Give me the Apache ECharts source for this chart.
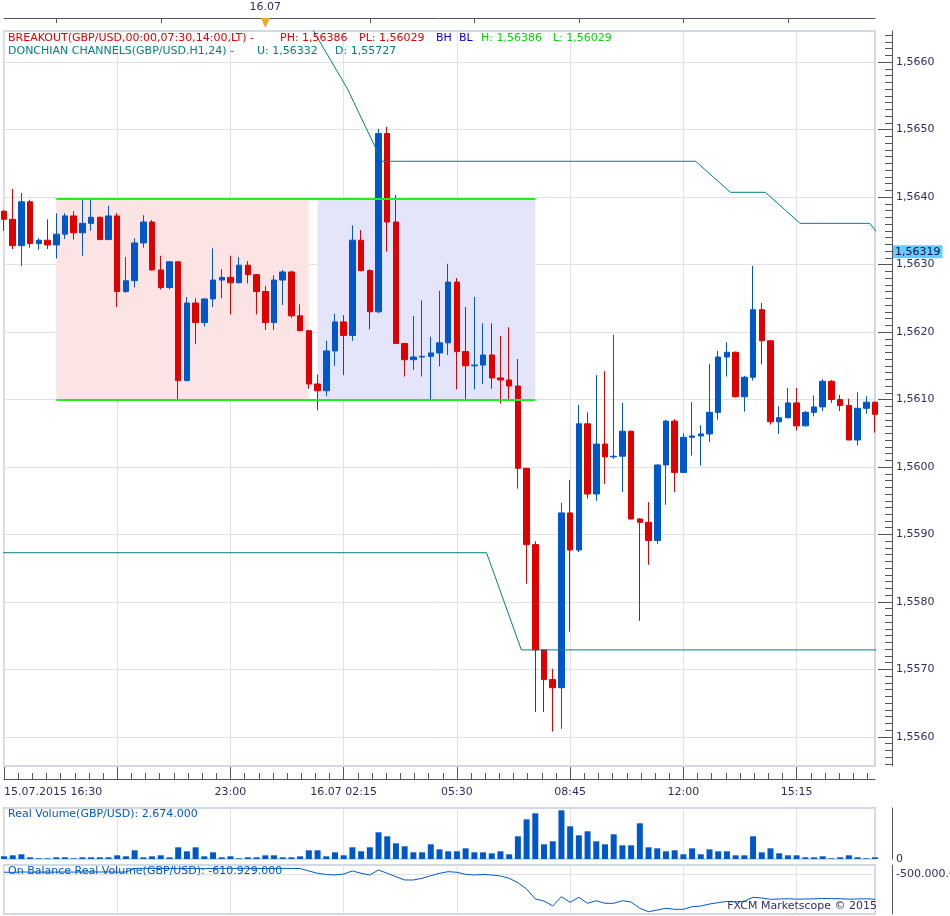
<!DOCTYPE html>
<html><head><meta charset="utf-8">
<script src="https://cdn.jsdelivr.net/npm/echarts@6/dist/echarts.min.js"></script>
<style>html,body{margin:0;padding:0;background:#fff}#c{width:950px;height:916px}</style>
</head><body><div id="c"></div>
<script>
// ---------- data ----------
const times = [];
for (let i = 0; i < 101; i++) {
  const m = 16 * 60 + 30 + i * 15;
  const day = m >= 1440 ? '16.07' : '15.07';
  const mm = m % 1440;
  times.push(day + ' ' + String(Math.floor(mm / 60)).padStart(2, '0') + ':' + String(mm % 60).padStart(2, '0'));
}
const opens = [1.56379,1.56367,1.56328,1.56393,1.56331,1.56336,1.56329,1.56345,1.56372,1.56347,
1.56361,1.56370,1.56337,1.56372,1.56260,1.56276,1.56332,1.56363,1.56292,1.56266,
1.56304,1.56128,1.56243,1.56214,1.56249,1.56277,1.56281,1.56273,1.56299,1.56285,
1.56260,1.56214,1.56277,1.56289,1.56224,1.56202,1.56123,1.56113,1.56172,1.56215,
1.56195,1.56336,1.56291,1.56230,1.56494,1.56363,1.56183,1.56159,1.56163,1.56164,
1.56169,1.56184,1.56274,1.56171,1.56150,1.56151,1.56166,1.56132,1.56129,1.56120,
1.55998,1.55885,1.55729,1.55685,1.55673,1.55932,1.55877,1.56064,1.55960,1.56034,
1.56015,1.56016,1.56053,1.55923,1.55918,1.55891,1.56003,1.56068,1.55992,1.56044,
1.56046,1.56049,1.56081,1.56163,1.56170,1.56104,1.56133,1.56233,1.56187,1.56067,
1.56073,1.56095,1.56061,1.56081,1.56089,1.56127,1.56100,1.56091,1.56040,1.56087,
1.56096];
const closes = [1.56367,1.56328,1.56393,1.56331,1.56336,1.56329,1.56345,1.56372,1.56347,1.56361,
1.56370,1.56337,1.56372,1.56260,1.56276,1.56332,1.56363,1.56292,1.56266,1.56304,
1.56128,1.56243,1.56214,1.56249,1.56277,1.56281,1.56273,1.56299,1.56285,1.56260,
1.56214,1.56277,1.56289,1.56224,1.56202,1.56123,1.56113,1.56172,1.56215,1.56195,
1.56336,1.56291,1.56230,1.56494,1.56363,1.56183,1.56159,1.56163,1.56164,1.56169,
1.56184,1.56274,1.56171,1.56150,1.56151,1.56166,1.56132,1.56129,1.56120,1.55998,
1.55885,1.55729,1.55685,1.55673,1.55932,1.55877,1.56064,1.55960,1.56034,1.56015,
1.56016,1.56053,1.55923,1.55918,1.55891,1.56003,1.56068,1.55992,1.56044,1.56046,
1.56049,1.56081,1.56163,1.56170,1.56104,1.56133,1.56233,1.56187,1.56067,1.56073,
1.56095,1.56061,1.56081,1.56089,1.56127,1.56100,1.56091,1.56040,1.56087,1.56096,
1.56078];
const lows = [1.56350,1.56323,1.56298,1.56325,1.56322,1.56323,1.56309,1.56338,1.56337,1.56313,
1.56350,1.56336,1.56336,1.56237,1.56258,1.56266,1.56325,1.56291,1.56263,1.56263,
1.56099,1.56127,1.56182,1.56208,1.56237,1.56250,1.56226,1.56272,1.56272,1.56226,
1.56203,1.56203,1.56240,1.56221,1.56201,1.56116,1.56084,1.56105,1.56150,1.56136,
1.56187,1.56290,1.56204,1.56228,1.56319,1.56182,1.56134,1.56144,1.56134,1.56099,
1.56149,1.56166,1.56115,1.56101,1.56115,1.56123,1.56116,1.56094,1.56099,1.55968,
1.55827,1.55637,1.55637,1.55608,1.55612,1.55756,1.55874,1.55953,1.55950,1.55975,
1.56012,1.55963,1.55922,1.55772,1.55855,1.55886,1.55944,1.55963,1.55991,1.56017,
1.56002,1.56037,1.56070,1.56134,1.56103,1.56082,1.56128,1.56152,1.56063,1.56049,
1.56072,1.56054,1.56060,1.56075,1.56083,1.56095,1.56083,1.56040,1.56032,1.56079,
1.56051];
const highs = [1.56381,1.56412,1.56406,1.56396,1.56339,1.56367,1.56376,1.56376,1.56379,1.56397,
1.56397,1.56371,1.56387,1.56376,1.56311,1.56339,1.56373,1.56366,1.56313,1.56305,
1.56305,1.56252,1.56250,1.56250,1.56324,1.56293,1.56313,1.56311,1.56305,1.56286,
1.56268,1.56284,1.56292,1.56291,1.56241,1.56203,1.56137,1.56187,1.56227,1.56225,
1.56358,1.56351,1.56293,1.56501,1.56504,1.56403,1.56184,1.56224,1.56247,1.56193,
1.56261,1.56301,1.56280,1.56237,1.56252,1.56213,1.56213,1.56194,1.56207,1.56160,
1.55999,1.55890,1.55730,1.55701,1.55947,1.55981,1.56092,1.56081,1.56136,1.56142,
1.56196,1.56095,1.56054,1.55924,1.55948,1.56004,1.56070,1.56071,1.56050,1.56096,
1.56062,1.56153,1.56172,1.56185,1.56171,1.56135,1.56298,1.56243,1.56188,1.56090,
1.56117,1.56117,1.56083,1.56106,1.56130,1.56129,1.56107,1.56101,1.56111,1.56105,
1.56097];
// real volume, millions
const volumes = [4.3,5.9,7.5,2.7,1.1,1.1,2.7,2.7,1.1,2.7,
2.7,2.7,2.7,5.9,4.3,13.9,2.7,4.3,5.9,2.7,
18.7,12.3,18.7,4.3,10.7,2.7,4.3,1.1,2.7,2.7,
5.9,5.9,2.7,2.7,4.3,13.9,13.9,4.3,10.7,5.9,
18.7,12.3,18.7,42.7,36.3,25.1,20.3,10.7,10.7,23.5,
15.5,12.3,12.3,17.1,10.7,10.7,9.1,12.3,7.5,36.3,
63.5,73.1,23.5,28.3,77.9,52.3,37.9,44.3,28.3,23.5,
39.5,21.9,21.9,57.1,18.7,17.1,12.3,13.9,7.5,17.1,
7.5,15.5,12.3,12.3,5.9,5.9,36.3,10.7,17.1,9.1,
5.9,5.9,2.7,2.7,4.3,1.1,2.7,5.9,2.7,1.1,
2.674];
// on balance real volume, millions
const obv = [-490.5,-491.5,-489.5,-490.5,-490.2,-490.6,-490.2,-489.8,-490.1,-489.7,
-489.4,-489.8,-489.4,-490.5,-489.8,-474.0,-473.5,-474.0,-474.5,-474.0,
-475.0,-474.0,-475.0,-474.8,-473.8,-473.6,-473.8,-473.7,-473.9,-474.0,
-474.3,-474.0,-473.9,-474.0,-474.3,-485.3,-495.6,-500.9,-503.1,-498.7,
-485.3,-495.6,-503.1,-480.9,-495.6,-510.7,-525.3,-525.3,-517.8,-506.2,
-495.6,-488.4,-491.1,-500.0,-503.1,-500.9,-503.1,-507.6,-517.8,-537.3,
-565.3,-609.8,-618.7,-640.9,-599.5,-624.4,-602.2,-628.9,-617.3,-628.9,
-628.9,-617.3,-623.1,-651.1,-666.2,-658.7,-651.1,-655.5,-655.5,-644.0,
-641.0,-632.0,-626.0,-620.5,-623.0,-619.0,-602.2,-605.3,-611.1,-609.8,
-608.5,-610.5,-609.8,-609.0,-607.5,-608.0,-608.5,-610.5,-609.5,-609.0,
-610.929];
// Donchian channel (H1, 24) points: candle position, price
const donUpperPos = [31.4, 35.4, 39.4, 43.4, 79.4, 83.4, 87.4, 91.4, 99.4, 103.4];
const donUpperVal = [1.5675, 1.56649, 1.56561, 1.56453, 1.56453, 1.56407, 1.56407, 1.56361, 1.56361, 1.56296];
const donLowerPos = [-0.6, 55.4, 59.4, 103.4];
const donLowerVal = [1.55873, 1.55873, 1.55729, 1.55729];
// breakout levels & sessions (candle indices)
const PH_LEVEL = 1.56398, PL_LEVEL = 1.56099;
const session1 = [6, 35], session2 = [36, 61];
const LAST_PRICE = 1.56319;
const MARKER_IDX = 30;
// ticks
const priceTicks = [1.556,1.557,1.558,1.559,1.560,1.561,1.562,1.563,1.564,1.565,1.566];
const xTickIdx = [0, 26, 39, 52, 65, 78, 91];
const xTickLabels = ['15.07.2015 16:30', '23:00', '16.07 02:15', '05:30', '08:45', '12:00', '15:15'];
const volTicks = [0, 73.1], volMinor = [14.6, 29.2, 43.9, 58.5];
const obvTicks = [-500], obvMinor = [-540, -580, -620, -660];

const Y_MIN = 1.55557, Y_MAX = 1.56646;
const priceMinor = [];
for (let t = 15556; t <= 15664; t++) if (t % 10) priceMinor.push(t / 10000);
const xMinor = [];
for (let k = 0; k * 13 / 8 <= 100; k++) if (k % 8) xMinor.push(k * 13 / 8);

// ---------- style ----------
const FONT = 'DejaVu Sans';
const NAVY = '#2e2e66', AXIS = '#555', GRIDC = '#e2e2e2', BORDER = '#d3d9e3';
const RED = '#e00000', BLUE = '#0058c8', TEAL = '#008080';

const candleData = opens.map((o, i) => [o, closes[i], lows[i], highs[i]]);
const pairs = (xs, ys) => xs.map((x, i) => [x, ys[i]]);
const lastIdx = times.length - 1;
const gridCommon = {left: 4, right: 75, show: true, borderColor: BORDER, borderWidth: 2,
  backgroundColor: '#fff', outerBoundsMode: 'none', containLabel: false};
const every13 = (i) => i % 13 === 0;
const hiddenCat = (g) => ({type: 'category', gridIndex: g, data: times, boundaryGap: false,
  axisLine: {show: false, onZero: false}, axisTick: {show: false}, axisLabel: {show: false},
  splitLine: {show: true, interval: every13, lineStyle: {color: GRIDC}}});
const tickStyle = {color: AXIS};
const rightAxis = (g, min, max, o) => Object.assign({
  type: 'value', gridIndex: g, position: 'right', offset: 17, min, max,
  axisLine: {show: true, onZero: false, lineStyle: {color: AXIS}}
}, o);

const option = {
  animation: false,
  textStyle: {fontFamily: FONT},
  title: [
    {left: 8, top: 33, padding: 0,
     text: '{r1|BREAKOUT(GBP/USD,00:00,07:30,14:00,LT) -}{r2|PH: 1,56386}{r3|PL: 1,56029}{b1|BH}{b2|BL}{g1|H: 1,56386}{g2|L: 1,56029}',
     textStyle: {fontSize: 11, fontWeight: 'normal', rich: {
       r1: {color: RED, fontSize: 11, fontFamily: FONT, width: 272},
       r2: {color: RED, fontSize: 11, fontFamily: FONT, width: 79},
       r3: {color: RED, fontSize: 11, fontFamily: FONT, width: 77},
       b1: {color: '#0000dd', fontSize: 11, fontFamily: FONT, width: 23},
       b2: {color: '#0000dd', fontSize: 11, fontFamily: FONT, width: 22},
       g1: {color: '#00d800', fontSize: 11, fontFamily: FONT, width: 72},
       g2: {color: '#00d800', fontSize: 11, fontFamily: FONT}}}},
    {left: 8, top: 46, padding: 0,
     text: '{a|DONCHIAN CHANNELS(GBP/USD.H1,24) -}{b|U: 1,56332}{c|D: 1,55727}',
     textStyle: {fontSize: 11, fontWeight: 'normal', rich: {
       a: {color: TEAL, fontSize: 11, fontFamily: FONT, width: 249},
       b: {color: TEAL, fontSize: 11, fontFamily: FONT, width: 78},
       c: {color: TEAL, fontSize: 11, fontFamily: FONT}}}},
    {left: 8, top: 809, padding: 0, text: 'Real Volume(GBP/USD): 2.674.000',
     textStyle: {color: BLUE, fontSize: 11, fontWeight: 'normal'}},
    {left: 8, top: 866, padding: 0, text: 'On Balance Real Volume(GBP/USD): -610.929.000',
     textStyle: {color: BLUE, fontSize: 11, fontWeight: 'normal'}},
    {right: 73, top: 901, padding: 0, text: 'FXCM Marketscope © 2015',
     textStyle: {color: NAVY, fontSize: 11, fontWeight: 'normal'}}
  ],
  grid: [
    Object.assign({top: 31, bottom: 150}, gridCommon),
    Object.assign({top: 808, bottom: 57}, gridCommon),
    Object.assign({top: 865, bottom: 2}, gridCommon)
  ],
  xAxis: [
    {type: 'category', gridIndex: 0, data: times, boundaryGap: false, position: 'bottom', offset: 13,
     axisLine: {onZero: false, lineStyle: {color: AXIS}},
     axisTick: {inside: true, length: 12, interval: (i) => i % 13 === 0, lineStyle: tickStyle},
     axisLabel: {interval: (i) => xTickIdx.indexOf(i) >= 0,
       formatter: (v, i) => { const k = xTickIdx.indexOf(i); return k >= 0 ? xTickLabels[k] : ''; },
       color: NAVY, fontSize: 11, margin: 8, alignMinLabel: 'left'},
     splitLine: {show: true, interval: every13, lineStyle: {color: GRIDC}}},
    {type: 'value', gridIndex: 0, min: 0, max: 100, position: 'bottom', offset: 13,
     axisLine: {show: false, onZero: false},
     axisTick: {show: true, inside: true, length: 6, customValues: xMinor, lineStyle: tickStyle},
     axisLabel: {show: false}, splitLine: {show: false}},
    {type: 'category', gridIndex: 0, data: times, boundaryGap: false, position: 'top', offset: 13,
     axisLine: {onZero: false, lineStyle: {color: AXIS}},
     axisTick: {inside: true, length: 5, interval: (i) => i % 12 === 6, lineStyle: tickStyle},
     axisLabel: {interval: (i) => i === MARKER_IDX, formatter: () => '16.07', color: NAVY, fontSize: 11, margin: 5},
     splitLine: {show: false}},
    hiddenCat(1),
    hiddenCat(2)
  ],
  yAxis: [
    rightAxis(0, Y_MIN, Y_MAX, {splitNumber: 10,
      axisTick: {inside: true, length: 14, customValues: priceTicks, lineStyle: tickStyle},
      axisLabel: {customValues: priceTicks, formatter: (v) => v.toFixed(4).replace('.', ','),
        color: NAVY, fontSize: 11, margin: 4},
      splitLine: {show: true, lineStyle: {color: GRIDC}}}),
    rightAxis(0, Y_MIN, Y_MAX, {axisLine: {show: false, onZero: false},
      axisTick: {inside: true, length: 7, customValues: priceMinor, lineStyle: tickStyle},
      axisLabel: {show: false}, splitLine: {show: false}}),
    rightAxis(1, 0, 81.6, {
      axisTick: {inside: true, length: 14, customValues: volTicks, lineStyle: tickStyle},
      axisLabel: {customValues: [0], formatter: () => '0', color: NAVY, fontSize: 11, margin: 4},
      splitLine: {show: false}}),
    rightAxis(1, 0, 81.6, {axisLine: {show: false, onZero: false},
      axisTick: {inside: true, length: 7, customValues: volMinor, lineStyle: tickStyle},
      axisLabel: {show: false}, splitLine: {show: false}}),
    rightAxis(2, -676.4, -458.7, {
      axisTick: {inside: true, length: 14, customValues: obvTicks, lineStyle: tickStyle},
      axisLabel: {customValues: obvTicks, formatter: (v) => v.toFixed(0) + '.000.000', color: NAVY, fontSize: 11, margin: 4},
      splitLine: {show: true, lineStyle: {color: GRIDC}}}),
    rightAxis(2, -676.4, -458.7, {axisLine: {show: false, onZero: false},
      axisTick: {inside: true, length: 7, customValues: obvMinor, lineStyle: tickStyle},
      axisLabel: {show: false}, splitLine: {show: false}})
  ],
  series: [
    {type: 'candlestick', name: 'GBP/USD', xAxisIndex: 0, yAxisIndex: 0, data: candleData,
     barWidth: 6, clip: false,
     itemStyle: {color: BLUE, color0: RED, borderColor: BLUE, borderColor0: RED, borderWidth: 1},
     markArea: {silent: true, label: {show: false}, data: [
       [{xAxis: session1[0], yAxis: PH_LEVEL, itemStyle: {color: '#fde4e4'}}, {xAxis: session1[1], yAxis: PL_LEVEL}],
       [{xAxis: session2[0], yAxis: PH_LEVEL, itemStyle: {color: '#e4e4fa'}}, {xAxis: session2[1], yAxis: PL_LEVEL}]
     ]},
     markLine: {silent: true, symbol: ['none', 'none'], label: {show: false}, data: [
       [{coord: [session1[0], PH_LEVEL], lineStyle: {color: '#22ee22', width: 2, type: 'solid'}}, {coord: [session2[1], PH_LEVEL]}],
       [{coord: [session1[0], PL_LEVEL], lineStyle: {color: '#22ee22', width: 2, type: 'solid'}}, {coord: [session2[1], PL_LEVEL]}],
       [{coord: [0, LAST_PRICE], lineStyle: {color: 'rgba(0,0,0,0)', width: 1, type: 'solid'},
         label: {show: true, position: 'end', distance: 18, formatter: () => LAST_PRICE.toFixed(5).replace('.', ','),
           backgroundColor: '#66ccff', color: '#101040', fontSize: 11, fontFamily: FONT, padding: [1, 2]}},
        {coord: [lastIdx, LAST_PRICE]}]
     ]},
     markPoint: {silent: true, label: {show: false}, data: [
       {coord: [MARKER_IDX, Y_MAX], symbol: 'triangle', symbolRotate: 180, symbolSize: [9, 10],
        symbolOffset: [0, -8], itemStyle: {color: '#f6a623'}}
     ]}},
    {type: 'line', name: 'Donchian U', xAxisIndex: 1, yAxisIndex: 0, data: pairs(donUpperPos, donUpperVal),
     showSymbol: false, lineStyle: {color: TEAL, width: 1}, itemStyle: {color: TEAL}, z: 4},
    {type: 'line', name: 'Donchian D', xAxisIndex: 1, yAxisIndex: 0, data: pairs(donLowerPos, donLowerVal),
     showSymbol: false, lineStyle: {color: TEAL, width: 1}, itemStyle: {color: TEAL}, z: 4},
    {type: 'bar', name: 'Real Volume', xAxisIndex: 3, yAxisIndex: 2, data: volumes, barWidth: 6, clip: false,
     itemStyle: {color: BLUE}},
    {type: 'line', name: 'OBV', xAxisIndex: 4, yAxisIndex: 4, data: obv, showSymbol: false,
     lineStyle: {color: BLUE, width: 1}, itemStyle: {color: BLUE}}
  ]
};
const chart = echarts.init(document.getElementById('c'), null, {renderer: 'canvas'});
chart.setOption(option);
</script></body></html>
